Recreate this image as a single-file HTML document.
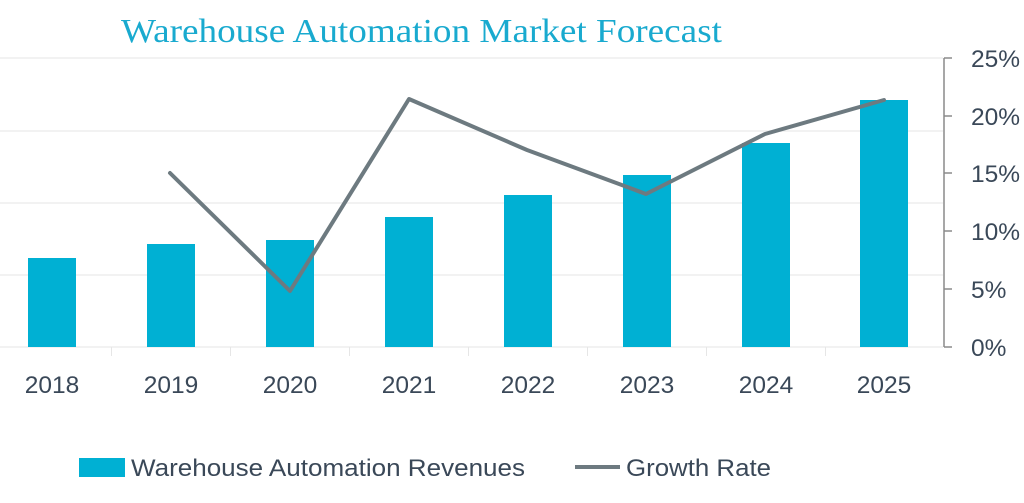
<!DOCTYPE html>
<html><head><style>body{margin:0;background:#fff}</style></head><body>
<svg width="1024" height="503" xmlns="http://www.w3.org/2000/svg" style="display:block">
<text x="121" y="42" textLength="601" lengthAdjust="spacingAndGlyphs" font-family="Liberation Serif, serif" font-size="34" fill="#19aacf">Warehouse Automation Market Forecast</text>
<g stroke="#f2f2f2" stroke-width="2">
<line x1="0" y1="58" x2="943" y2="58"/><line x1="0" y1="131" x2="943" y2="131"/>
<line x1="0" y1="203" x2="943" y2="203"/><line x1="0" y1="275" x2="943" y2="275"/>
<line x1="0" y1="347" x2="943" y2="347"/>
</g>
<g stroke="#e6e6e6" stroke-width="1">
<line x1="111.5" y1="347" x2="111.5" y2="356"/><line x1="230.5" y1="347" x2="230.5" y2="356"/>
<line x1="349.5" y1="347" x2="349.5" y2="356"/><line x1="468.5" y1="347" x2="468.5" y2="356"/>
<line x1="587.5" y1="347" x2="587.5" y2="356"/><line x1="706.5" y1="347" x2="706.5" y2="356"/>
<line x1="825.5" y1="347" x2="825.5" y2="356"/>
</g>
<g fill="#00b0d3">
<rect x="28" y="258" width="48" height="89"/><rect x="147" y="244" width="48" height="103"/>
<rect x="266" y="240" width="48" height="107"/><rect x="385" y="217" width="48" height="130"/>
<rect x="504" y="195" width="48" height="152"/><rect x="623" y="175" width="48" height="172"/>
<rect x="742" y="143" width="48" height="204"/><rect x="860" y="100" width="48" height="247"/>
</g>
<polyline points="170,173 290,291 409,99 527,150 646,194 765,134 884,100" fill="none" stroke="#6d7a80" stroke-width="4" stroke-linejoin="round" stroke-linecap="round"/>
<g stroke="#8a8a8a" stroke-width="1.5" fill="none">
<line x1="944" y1="58" x2="944" y2="347"/>
<line x1="944" y1="58" x2="952" y2="58"/><line x1="944" y1="116" x2="952" y2="116"/>
<line x1="944" y1="173" x2="952" y2="173"/><line x1="944" y1="231" x2="952" y2="231"/>
<line x1="944" y1="289" x2="952" y2="289"/><line x1="944" y1="347" x2="952" y2="347"/>
</g>
<g font-family="Liberation Sans, sans-serif" font-size="24.5" fill="#3a4858">
<text x="971" y="67">25%</text><text x="971" y="125">20%</text><text x="971" y="182">15%</text>
<text x="971" y="240">10%</text><text x="971" y="298">5%</text><text x="971" y="356">0%</text>
</g>
<g font-family="Liberation Sans, sans-serif" font-size="24.5" fill="#3a4858" text-anchor="middle">
<text x="52" y="393">2018</text><text x="171" y="393">2019</text><text x="290" y="393">2020</text>
<text x="409" y="393">2021</text><text x="528" y="393">2022</text><text x="647" y="393">2023</text>
<text x="766" y="393">2024</text><text x="884" y="393">2025</text>
</g>
<rect x="79" y="458" width="46" height="19" fill="#00b0d3"/>
<text x="131" y="476" textLength="394" lengthAdjust="spacingAndGlyphs" font-family="Liberation Sans, sans-serif" font-size="24" fill="#3a4858">Warehouse Automation Revenues</text>
<line x1="575" y1="467" x2="620" y2="467" stroke="#6d7a80" stroke-width="4"/>
<text x="626" y="476" textLength="145" lengthAdjust="spacingAndGlyphs" font-family="Liberation Sans, sans-serif" font-size="24" fill="#3a4858">Growth Rate</text>
</svg>
</body></html>
